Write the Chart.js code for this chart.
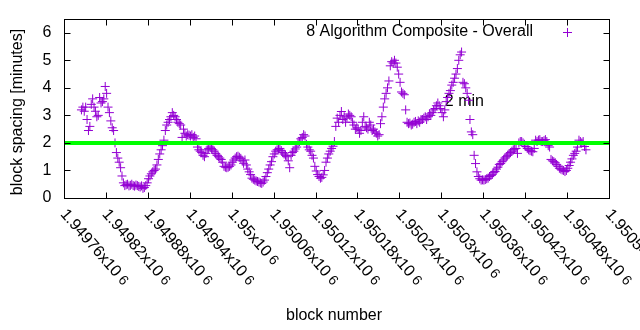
<!DOCTYPE html>
<html>
<head>
<meta charset="utf-8">
<script src="https://cdn.jsdelivr.net/npm/chart.js@4/dist/chart.umd.min.js"></script>
<style>
  html, body { margin: 0; padding: 0; background: #ffffff; }
  #wrap { width: 640px; height: 330px; }
</style>
</head>
<body>
<div id="wrap"><canvas id="c" width="640" height="330"></canvas></div>
<script>
// Block spacing (minutes), one value every blockStep blocks starting at firstBlock.
const firstBlock = 1949785;
const blockStep = 2;
const spacingMinutes = [
  3.2, 3.3, 3.15, 3.3, 2.85, 2.45, 2.6, 3.4, 3.6, 3.3,
  3.15, 2.95, 3.0, 3.65, 3.45, 3.5, 3.6, 4.05, 3.8, 3.3,
  3.1, 2.8, 2.55, 2.45, 2.0, 1.65, 1.45, 1.3, 1.1, 0.8,
  0.55, 0.45, 0.48, 0.5, 0.44, 0.46, 0.5, 0.45, 0.43, 0.47,
  0.45, 0.42, 0.4, 0.44, 0.35, 0.38, 0.45, 0.55, 0.7, 0.8,
  0.88, 0.95, 1.0, 1.05, 1.2, 1.4, 1.6, 1.75, 1.9, 2.1,
  2.45, 2.65, 2.75, 2.85, 2.95, 3.1, 3.0, 2.95, 2.85, 2.75,
  2.7, 2.65, 2.2, 2.5, 2.35, 2.25, 2.3, 2.28, 2.25, 2.3,
  2.2, 2.25, 2.15, 1.85, 1.75, 1.7, 1.65, 1.55, 1.5, 1.62,
  1.75, 1.8, 1.85, 1.8, 1.75, 1.7, 1.62, 1.55, 1.5, 1.45,
  1.4, 1.3, 1.15, 1.12, 1.1, 1.12, 1.15, 1.2, 1.3, 1.38,
  1.45, 1.5, 1.52, 1.48, 1.44, 1.35, 1.26, 1.38, 1.2, 1.05,
  0.95, 0.85, 0.72, 0.68, 0.65, 0.62, 0.6, 0.58, 0.55, 0.53,
  0.58, 0.65, 0.78, 0.92, 1.05, 1.2, 1.32, 1.5, 1.6, 1.7,
  1.75, 1.78, 1.8, 1.72, 1.65, 1.6, 1.55, 1.5, 1.35, 1.1,
  1.55, 1.65, 1.7, 1.78, 1.85, 1.98, 2.05, 2.15, 2.2, 2.3,
  2.25, 1.95, 1.85, 1.75, 1.7, 1.55, 1.45, 1.15, 0.98, 0.85,
  0.78, 0.72, 0.75, 0.84, 1.0, 1.3, 1.45, 1.6, 1.7, 1.8,
  1.88, 2.05, 2.6, 2.9, 2.75, 3.0, 3.14, 2.85, 2.95, 2.75,
  2.9, 3.05, 3.0, 2.95, 2.75, 2.65, 2.5, 2.55, 2.5, 2.35,
  2.45, 2.75, 2.95, 2.6, 2.55, 2.5, 2.75, 2.65, 2.45, 2.5,
  2.4, 2.35, 2.25, 2.3, 2.7, 2.95, 3.3, 3.6, 3.8, 4.0,
  4.25, 4.8, 4.95, 4.9, 5.0, 4.9, 4.75, 4.5, 4.2, 3.85,
  3.8, 3.75, 3.2, 2.75, 2.7, 2.72, 2.65, 2.68, 2.75, 2.78,
  2.7, 2.8, 2.75, 2.85, 2.85, 2.9, 2.95, 2.85, 2.95, 3.05,
  3.0, 3.1, 3.2, 3.25, 3.35, 3.45, 3.35, 3.25, 3.1, 2.95,
  3.2, 3.5, 3.65, 3.8, 3.9, 4.1, 4.2, 4.35, 4.5, 4.7,
  5.0, 5.2, 5.3, 4.2, 4.15, 4.0, 3.8, 3.55, 2.85, 2.4,
  2.3, 1.55, 1.25, 0.95, 0.78, 0.7, 0.65, 0.66, 0.65, 0.67,
  0.7, 0.72, 0.78, 0.82, 0.86, 0.92, 0.96, 1.05, 1.12, 1.22,
  1.25, 1.32, 1.38, 1.45, 1.5, 1.55, 1.6, 1.65, 1.7, 1.75,
  1.78, 1.8, 1.62, 2.0, 2.05, 2.05, 2.0, 1.95, 1.87, 1.8,
  1.75, 1.72, 1.7, 1.68, 1.8, 2.1, 2.05, 2.1, 2.12, 2.05,
  2.05, 2.08, 2.12, 2.05, 1.9, 1.85, 1.4, 1.35, 1.32, 1.28,
  1.22, 1.15, 1.08, 1.05, 1.02, 1.0, 0.96, 1.0, 1.08, 1.18,
  1.3, 1.42, 1.55, 1.62, 1.7, 1.85, 2.1, 2.05, 2.0, 2.05,
  1.87, 1.75
];

// Axis ticks
const xTickBlocks = [1949760, 1949820, 1949880, 1949940, 1950000, 1950060, 1950120,
                     1950180, 1950240, 1950300, 1950360, 1950420, 1950480, 1950540];
const xTickMantissas = ['1.94976', '1.94982', '1.94988', '1.94994', '1.95', '1.95006', '1.95012',
                        '1.95018', '1.95024', '1.9503', '1.95036', '1.95042', '1.95048', '1.95054'];
const xTickExponent = '6';
const yTicks = [0, 1, 2, 3, 4, 5, 6];
const yMax = 6.5;

// Target block time and its annotation
const targetMinutes = 2;
const targetText = '2 min';
const targetTextBlock = 1950305;
const targetTextMinutes = 3.5;

const seriesName = '8 Algorithm Composite - Overall';
const xTitle = 'block number';
const yTitle = 'block spacing [minutes]';

const PURPLE = '#9400d3';
const GREEN = '#00ff00';
const FONT = '16px "Liberation Sans", Arial, sans-serif';
const EXP_FONT = '14px "Liberation Sans", Arial, sans-serif';

const points = spacingMinutes.map((v, i) => ({ x: firstBlock + i * blockStep, y: v }));
const xMin = xTickBlocks[0];
const xMax = xTickBlocks[xTickBlocks.length - 1];

function drawCross(ctx, x, y, r) {
  ctx.beginPath();
  ctx.moveTo(x - r, y); ctx.lineTo(x + r, y);
  ctx.moveTo(x, y - r); ctx.lineTo(x, y + r);
  ctx.stroke();
}

// Frame, inward ticks, rotated tick labels, titles and key in gnuplot style
const gnuplotDecor = {
  id: 'gnuplotDecor',
  beforeDatasetsDraw(chart) {
    const ctx = chart.ctx;
    const xs = chart.scales.x, ys = chart.scales.y;
    ctx.save();
    ctx.font = FONT;
    ctx.fillStyle = '#000';
    ctx.textAlign = 'left';
    ctx.textBaseline = 'middle';
    ctx.fillText(targetText, xs.getPixelForValue(targetTextBlock), ys.getPixelForValue(targetTextMinutes));
    ctx.restore();
  },
  afterDraw(chart) {
    const ctx = chart.ctx;
    const a = chart.chartArea;
    const xs = chart.scales.x, ys = chart.scales.y;
    const L = Math.round(a.left) + 0.5, R = Math.round(a.right) + 0.5;
    const T = Math.round(a.top) + 0.5, B = Math.round(a.bottom) + 0.5;
    const tick = 6;
    ctx.save();
    ctx.strokeStyle = '#000';
    ctx.lineWidth = 1;
    ctx.strokeRect(L, T, R - L, B - T);
    ctx.beginPath();
    yTicks.forEach(v => {
      const p = Math.round(ys.getPixelForValue(v)) + 0.5;
      ctx.moveTo(L, p); ctx.lineTo(L + tick, p);
      ctx.moveTo(R, p); ctx.lineTo(R - tick, p);
    });
    xTickBlocks.forEach(v => {
      const p = Math.round(xs.getPixelForValue(v)) + 0.5;
      ctx.moveTo(p, B); ctx.lineTo(p, B - tick);
      ctx.moveTo(p, T); ctx.lineTo(p, T + tick);
    });
    ctx.stroke();

    ctx.fillStyle = '#000';
    ctx.font = FONT;
    // y tick labels
    ctx.textAlign = 'right';
    ctx.textBaseline = 'middle';
    yTicks.forEach(v => ctx.fillText(String(v), L - 13, ys.getPixelForValue(v)));

    // x tick labels, rotated clockwise
    const ang = 49 * Math.PI / 180;
    xTickBlocks.forEach((v, i) => {
      const p = xs.getPixelForValue(v);
      ctx.save();
      ctx.translate(p - 1, B + 13);
      ctx.rotate(ang);
      ctx.textAlign = 'left';
      ctx.textBaseline = 'middle';
      ctx.font = FONT;
      const base = xTickMantissas[i] + 'x10';
      ctx.fillText(base, 0, 0);
      const w = ctx.measureText(base).width;
      ctx.font = EXP_FONT;
      ctx.fillText(xTickExponent, w + 4, 0);
      ctx.restore();
    });

    // axis titles
    ctx.font = FONT;
    ctx.textAlign = 'center';
    ctx.textBaseline = 'middle';
    ctx.fillText(xTitle, 334, 316);
    ctx.save();
    ctx.translate(18, 112);
    ctx.rotate(-Math.PI / 2);
    ctx.fillText(yTitle, 0, 0);
    ctx.restore();

    // key
    ctx.textAlign = 'right';
    ctx.fillText(seriesName, 533, 32);
    ctx.strokeStyle = PURPLE;
    ctx.lineWidth = 1;
    drawCross(ctx, 567.5, 32.5, 4.5);
    ctx.restore();
  }
};

new Chart(document.getElementById('c'), {
  type: 'scatter',
  data: {
    datasets: [
      {
        label: seriesName,
        data: points,
        pointStyle: 'cross',
        pointRadius: 4.5,
        pointHoverRadius: 4.5,
        pointBorderWidth: 1,
        borderColor: PURPLE,
        backgroundColor: PURPLE,
        showLine: false,
        order: 1
      },
      {
        label: targetText,
        type: 'line',
        data: [{ x: xMin, y: targetMinutes }, { x: xMax, y: targetMinutes }],
        borderColor: GREEN,
        borderWidth: 4,
        pointRadius: 0,
        fill: false,
        order: 0
      }
    ]
  },
  options: {
    responsive: false,
    animation: false,
    devicePixelRatio: 1,
    events: [],
    layout: { padding: { left: 0, right: 31, top: 19, bottom: 0 } },
    plugins: { legend: { display: false }, tooltip: { enabled: false } },
    scales: {
      x: {
        type: 'linear',
        min: xMin,
        max: xMax,
        afterBuildTicks: s => { s.ticks = xTickBlocks.map(v => ({ value: v })); },
        afterFit: s => { s.height = 132; },
        grid: { display: false },
        border: { display: false },
        ticks: { display: false }
      },
      y: {
        min: 0,
        max: yMax,
        afterBuildTicks: s => { s.ticks = yTicks.map(v => ({ value: v })); },
        afterFit: s => { s.width = 64; },
        grid: { display: false },
        border: { display: false },
        ticks: { display: false }
      }
    }
  },
  plugins: [gnuplotDecor]
});
</script>
</body>
</html>
